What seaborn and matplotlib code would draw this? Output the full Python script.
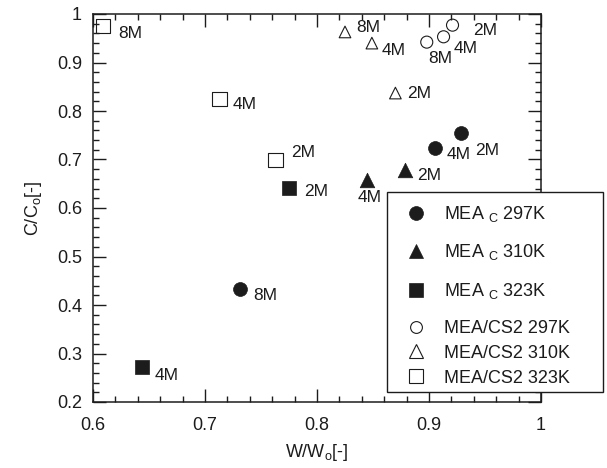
import matplotlib
matplotlib.use("Agg")
import matplotlib.pyplot as plt
import seaborn as sns
from matplotlib.lines import Line2D
from matplotlib.patches import Rectangle
from matplotlib.ticker import MultipleLocator, FuncFormatter

sns.set_theme(style="ticks")
plt.rcParams['font.family'] = ['Liberation Sans', 'DejaVu Sans']
plt.rcParams['mathtext.fontset'] = 'custom'
plt.rcParams['mathtext.rm'] = 'Liberation Sans'
plt.rcParams['mathtext.it'] = 'Liberation Sans'
plt.rcParams['mathtext.bf'] = 'Liberation Sans'

INK = "#1c1c1c"

# ---- data: W/Wo (x) and C/Co (y) for each solvent / temperature ----
mea297_x = [0.929, 0.905, 0.731]
mea297_y = [0.755, 0.724, 0.433]
mea297_lab = ["2M", "4M", "8M"]

mea310_x = [0.879, 0.845]
mea310_y = [0.678, 0.658]
mea310_lab = ["2M", "4M"]

mea323_x = [0.775, 0.644]
mea323_y = [0.641, 0.272]
mea323_lab = ["2M", "4M"]

cs297_x = [0.921, 0.913, 0.898]
cs297_y = [0.977, 0.953, 0.942]
cs297_lab = ["2M", "4M", "8M"]

cs310_x = [0.870, 0.849, 0.825]
cs310_y = [0.837, 0.940, 0.963]
cs310_lab = ["2M", "4M", "8M"]

cs323_x = [0.763, 0.713, 0.609]
cs323_y = [0.699, 0.825, 0.975]
cs323_lab = ["2M", "4M", "8M"]

legend_labels = [r"MEA $_{\mathregular{C}}$ 297K", r"MEA $_{\mathregular{C}}$ 310K",
                 r"MEA $_{\mathregular{C}}$ 323K",
                 "MEA/CS2 297K", "MEA/CS2 310K", "MEA/CS2 323K"]

# ---- styling per series: marker, size, filled?, label offsets (px right, px down) ----
series = [
    (mea297_x, mea297_y, mea297_lab, "o", 100, True, [(14, 18), (12, 7), (14, 7)]),
    (mea310_x, mea310_y, mea310_lab, "^", 110, True, [(12, 5), (-10, 18)]),
    (mea323_x, mea323_y, mea323_lab, "s", 110, True, [(15, 3), (12, 8)]),
    (cs297_x, cs297_y, cs297_lab, "o", 75, False, [(21, 5), (10, 12), (1, 16)]),
    (cs310_x, cs310_y, cs310_lab, "^", 70, False, [(12, 0), (10, 7), (11, -4)]),
    (cs323_x, cs323_y, cs323_lab, "s", 110, False, [(16, -7), (13, 6), (15, 7)]),
]

fig = plt.figure(figsize=(6.07, 4.68), dpi=100)
ax = fig.add_axes([93 / 607, 1 - 402 / 468, 448 / 607, 388 / 468])

for xs, ys, labs, mk, size, filled, offs in series:
    if filled:
        sns.scatterplot(x=xs, y=ys, ax=ax, marker=mk, s=size,
                        facecolor=INK, edgecolor=INK, linewidth=0.5,
                        legend=False, zorder=3)
    else:
        sns.scatterplot(x=xs, y=ys, ax=ax, marker=mk, s=size,
                        facecolor="none", edgecolor=INK, linewidth=0.8,
                        legend=False, zorder=3)
    for x, y, t, (dx, dy) in zip(xs, ys, labs, offs):
        ax.annotate(t, (x, y), xytext=(dx * 0.72, -dy * 0.72),
                    textcoords="offset points", ha="left", va="center",
                    fontsize=12.5, color=INK)

ax.set_xlim(0.6, 1.0)
ax.set_ylim(0.2, 1.0)
fmt = FuncFormatter(lambda v, p: f"{v:g}")
ax.xaxis.set_major_locator(MultipleLocator(0.1))
ax.xaxis.set_minor_locator(MultipleLocator(0.02))
ax.yaxis.set_major_locator(MultipleLocator(0.1))
ax.yaxis.set_minor_locator(MultipleLocator(0.02))
ax.xaxis.set_major_formatter(fmt)
ax.yaxis.set_major_formatter(fmt)
ax.tick_params(which="both", direction="in", top=True, right=True,
               color=INK, labelsize=13, labelcolor=INK)
ax.tick_params(which="major", length=9.5, width=1.0)
ax.tick_params(which="minor", length=4, width=1.0)
ax.tick_params(axis="x", which="major", pad=10.5)
ax.tick_params(axis="y", which="major", pad=8)
for sp in ax.spines.values():
    sp.set_linewidth(1.1)
    sp.set_color(INK)

ax.set_xlabel(r"W/W$_{\mathregular{o}}$[-]", fontsize=13, color=INK, labelpad=6)
ax.set_ylabel(r"C/C$_{\mathregular{o}}$[-]", fontsize=13, color=INK, labelpad=9)

# ---- legend box drawn over the plot ----
W, H = 607, 468
fig.add_artist(Rectangle((387 / W, 1 - 392 / H), 216 / W, 200 / H,
                         transform=fig.transFigure, facecolor="white",
                         edgecolor=INK, linewidth=1.0, zorder=5))

def handle(mk, ms, filled):
    return Line2D([], [], linestyle="none", marker=mk, markersize=ms,
                  markerfacecolor=INK if filled else "none",
                  markeredgecolor=INK, markeredgewidth=0.5 if filled else 0.8)

h1 = [handle("o", 10, True), handle("^", 10.5, True), handle("s", 10, True)]
h2 = [handle("o", 8.5, False), handle("^", 9.5, False), handle("s", 10.5, False)]

common = dict(frameon=False, fontsize=13, handlelength=1.0, handletextpad=1.05,
              borderpad=0, borderaxespad=0, loc="upper left", labelcolor=INK)
leg1 = fig.legend(h1, legend_labels[:3], bbox_to_anchor=(407 / W, 1 - 204 / H),
                  labelspacing=1.02, **common)
leg2 = fig.legend(h2, legend_labels[3:], bbox_to_anchor=(407 / W, 1 - 320 / H),
                  labelspacing=0.43, **common)
leg1.set_zorder(6)
leg2.set_zorder(6)

fig.savefig("out.png", dpi=100)
